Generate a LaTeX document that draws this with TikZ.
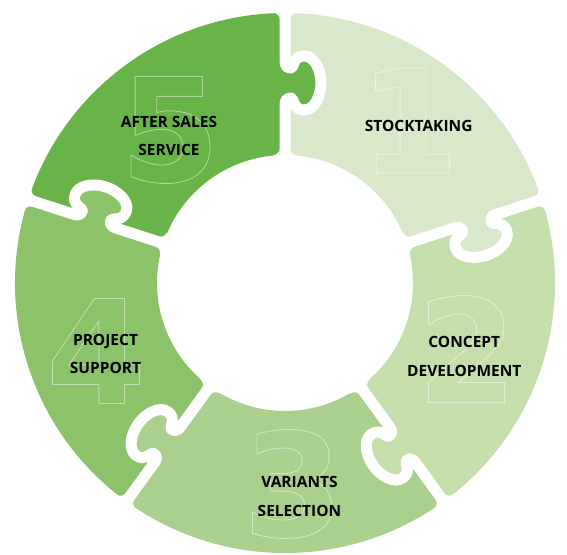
\documentclass[tikz,border=0pt]{standalone}
\usepackage{fontspec}
\setmainfont{Open Sans}
\newfontfamily\digitfont{DejaVu Sans}
\definecolor{P1}{HTML}{D9E8CA}
\definecolor{P2}{HTML}{C5DFAC}
\definecolor{P3}{HTML}{A9D08C}
\definecolor{P4}{HTML}{8CC26A}
\definecolor{P5}{HTML}{69B448}
\newcommand{\bignum}[1]{\special{pdf:literal 1 Tr 0.9 w}#1\special{pdf:literal 0 Tr}}
\newcommand{\tabpath}{(178,0) .. controls (183,0) and (185,-2) .. (185,-6)
  .. controls (185,-9) and (173,-8) .. (173,-19)
  .. controls (173,-30) and (188,-36) .. (200,-36)
  .. controls (212,-36) and (227,-30) .. (227,-19)
  .. controls (227,-8) and (215,-9) .. (215,-6)
  .. controls (215,-2) and (217,0) .. (222,0)}

\begin{document}
\begin{tikzpicture}[x=1pt,y=1pt,
    gap/.style={draw=white,line width=11pt,line join=round},
    digit/.style={font=\digitfont\bfseries\fontsize{144}{144}\selectfont,inner sep=0pt},
    label/.style={font=\bfseries\fontsize{15.5}{28.5}\selectfont,align=center,text=black,inner sep=0pt}]
  \useasboundingbox (0,0) rectangle (567,554);
  \begin{scope}[shift={(285,271)}]
    \foreach \k/\a/\b in {1/90/18,2/18/-54,3/-54/-126,4/-126/-198,5/162/90}
      \fill[P\k] (\a:270) arc[start angle=\a, end angle=\b, radius=270]
        -- (\b:128) arc[start angle=\b, end angle=\a, radius=128] -- cycle;
    \foreach \a/\k in {90/5,18/1,-54/2,-126/3,162/4}
      \fill[P\k,rotate=\a] \tabpath -- cycle;
    \foreach \a in {90,18,-54,-126,162}
      \draw[gap,rotate=\a] (110,0) -- \tabpath -- (290,0);
    \foreach \a in {90,18,-54,-126,162}
      \foreach \s in {1,-1}
        \fill[white,rotate=\a,yscale=\s]
          (264,5.5) -- (274,5.5) -- (274,11.5) -- (270,11.5) arc[start angle=0, end angle=-90, radius=6] -- cycle
          (134,5.5) -- (124,5.5) -- (124,11.5) -- (128,11.5) arc[start angle=180, end angle=270, radius=6] -- cycle;
  \end{scope}

  \node[digit,text=white!45!P1] (d1) at (409.5,433.5) {\bignum{1}};
  \node[digit,text=white!45!P2] (d2) at (467,205) {\bignum{2}};
  \node[digit,text=white!45!P3] (d3) at (293,70) {\bignum{3}};
  \node[digit,text=white!45!P4] (d4) at (96,203) {\bignum{4}};
  \node[digit,text=white!45!P5] (d5) at (170,424) {\bignum{5}};

  \node[label] (stocktaking) at (418.7,428.5) {STOCKTAKING};
  \node[label] (concept) at (464.3,197.3) {CONCEPT\\DEVELOPMENT};
  \node[label] (variants) at (299.5,57.7) {VARIANTS\\SELECTION};
  \node[label] (project) at (105.5,200) {PROJECT\\SUPPORT};
  \node[label] (aftersales) at (169,418.2) {AFTER SALES\\SERVICE};
\end{tikzpicture}
\end{document}
